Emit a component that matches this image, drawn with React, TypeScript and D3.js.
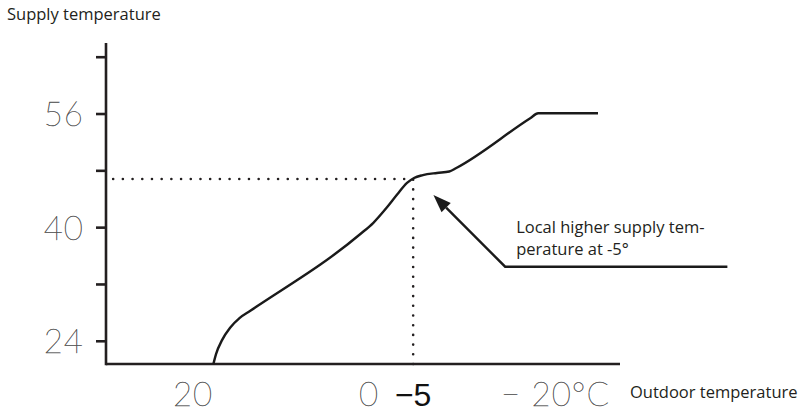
import React from "react";
import * as d3 from "d3";

// outdoor temperature (°C) -> supply temperature (°C)
const curveOutdoor = [17.7, 17.4, 16.7, 15.8, 14.7, 13.5, 1.0, -0.45, -2.05, -3.2, -4.3, -5.1, -6.1, -7.7, -9.1, -9.9, -18.3, -19.2, -26.0];
const curveSupply = [20.8, 22.2, 24.2, 25.9, 27.3, 28.3, 39.1, 40.65, 42.9, 44.7, 46.3, 47.0, 47.4, 47.7, 47.9, 48.4, 55.4, 56.1, 56.1];

const yTicks = [24, 32, 40, 48, 56, 64];
const yLabels = [56, 40, 24];
const xLabels = [20, 0];

const xMin = 29.9;
const xMax = -28.5;
const yMin = 20.8;
const yMax = 66;

const designOutdoor = -5;
const designSupply = 46.85;

// annotation (data units)
const arrowTip = { x: -7.3, y: 44.6 };
const arrowElbow = { x: -15.45, y: 34.5 };
const arrowEnd = { x: -40.7, y: 34.5 };
const noteAt = { x: -16.7, y: 39.25 };
const noteLines = ["Local higher supply tem-", "perature at -5°"];

const W = 804;
const H = 412;

const thinFont = "Lato, 'Noto Sans CJK SC', sans-serif";
const textFont = "'Open Sans', 'Noto Sans', sans-serif";
const ink = "#231f20";

export default function App() {
  const x = d3.scaleLinear().domain([xMin, xMax]).range([106, 620]);
  const y = d3.scaleLinear().domain([yMin, yMax]).range([364, 43]);

  const line = d3
    .line<number>()
    .x((_, i) => x(curveOutdoor[i]))
    .y((d) => y(d))
    .curve(d3.curveMonotoneX);

  // arrowhead
  const tx = x(arrowTip.x);
  const ty = y(arrowTip.y);
  const ex = x(arrowElbow.x);
  const ey = y(arrowElbow.y);
  const ang = Math.atan2(ty - ey, tx - ex);
  const headLen = 18;
  const headW = 6.5;
  const bx = tx - headLen * Math.cos(ang);
  const by = ty - headLen * Math.sin(ang);
  const head = [
    [tx, ty],
    [bx + headW * Math.sin(ang), by - headW * Math.cos(ang)],
    [bx - headW * Math.sin(ang), by + headW * Math.cos(ang)],
  ];

  const thin = {
    fontFamily: thinFont,
    fontWeight: 100,
    fontSize: 33,
    letterSpacing: 1,
    fill: "#222",
    stroke: "#555",
    strokeWidth: 0.35,
  } as const;

  return (
    <div style={{ position: "absolute", left: 0, top: 0 }}>
      <svg width={W} height={H} style={{ display: "block", background: "#fff" }}>
        <text x={7} y={20} fontFamily={textFont} fontSize={16.5} fill={ink}>
          Supply temperature
        </text>

        {/* dotted guide lines */}
        <path
          d={`M${x(designOutdoor)},${y(yMin)} V${y(designSupply)} H${x(29.2)}`}
          fill="none"
          stroke={ink}
          strokeWidth={2.6}
          strokeLinecap="round"
          strokeDasharray="0 9.7"
        />

        {/* axes */}
        <line x1={x(xMin)} x2={x(xMin)} y1={y(yMax)} y2={y(yMin) + 1.3} stroke={ink} strokeWidth={2.6} />
        <line x1={x(xMin)} x2={x(xMax)} y1={y(yMin)} y2={y(yMin)} stroke={ink} strokeWidth={2.6} />
        {yTicks.map((t) => (
          <line key={t} x1={96} x2={x(xMin)} y1={y(t)} y2={y(t)} stroke={ink} strokeWidth={2.6} />
        ))}

        {yLabels.map((t) => (
          <text key={t} x={84} y={y(t)} dy="0.36em" textAnchor="end" {...thin}>
            {t}
          </text>
        ))}

        {xLabels.map((t) => (
          <text key={t} x={x(t)} y={406} textAnchor="middle" {...thin}>
            {t}
          </text>
        ))}
        <text
          x={x(designOutdoor)}
          y={406}
          textAnchor="middle"
          fontFamily="'Liberation Sans', Arial, sans-serif"
          fontSize={32}
          fill="#111"
        >
          −5
        </text>
        <text x={501} y={406} {...thin}>
          − 20°C
        </text>
        <text x={630} y={398} fontFamily={textFont} fontSize={16.5} fill={ink}>
          Outdoor temperature
        </text>

        {/* curve */}
        <path d={line(curveSupply) || ""} fill="none" stroke="#1a1a1a" strokeWidth={2.4} strokeLinejoin="round" />

        {/* annotation */}
        <polyline
          points={`${bx},${by} ${ex},${ey} ${x(arrowEnd.x)},${y(arrowEnd.y)}`}
          fill="none"
          stroke="#1a1a1a"
          strokeWidth={2.4}
        />
        <polygon points={head.map((p) => p.join(",")).join(" ")} fill="#1a1a1a" />
        <text x={x(noteAt.x)} y={y(noteAt.y)} fontFamily={textFont} fontSize={16.5} fill={ink}>
          {noteLines.map((l, i) => (
            <tspan key={i} x={x(noteAt.x)} dy={i === 0 ? 0 : 22}>
              {l}
            </tspan>
          ))}
        </text>
      </svg>
    </div>
  );
}
